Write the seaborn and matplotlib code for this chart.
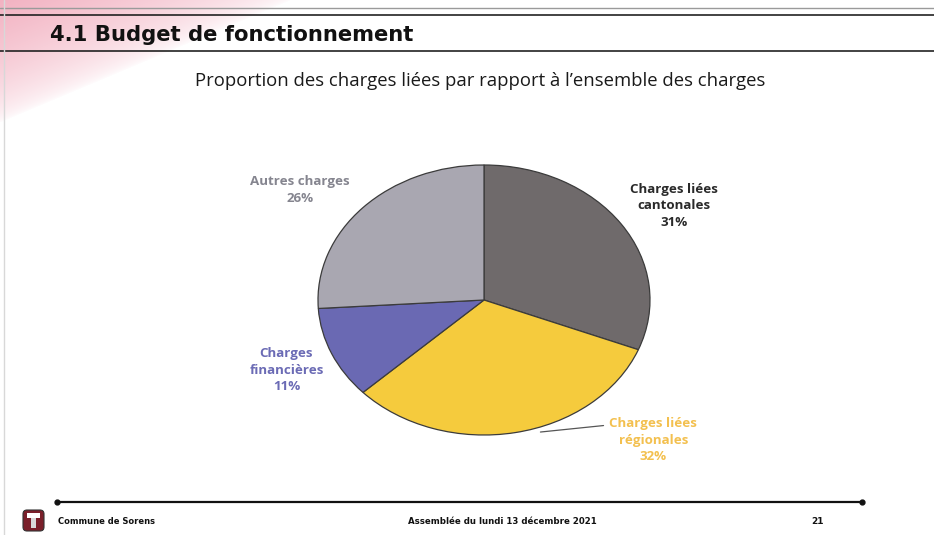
import matplotlib.pyplot as plt
import matplotlib.patches as mpatches
import numpy as np
import seaborn as sns

# --- data -------------------------------------------------------------
categories = ["Charges liées\ncantonales", "Charges liées\nrégionales",
              "Charges\nfinancières", "Autres charges"]
shares = [31, 32, 11, 26]

slide_title = "4.1 Budget de fonctionnement"
chart_title = "Proportion des charges liées par rapport à l\u2019ensemble des charges"
footer_left = "Commune de Sorens"
footer_mid = "Assemblée du lundi 13 décembre 2021"
page_no = "21"

# --- style ------------------------------------------------------------
sns.set_theme(style="white")
plt.rcParams["font.family"] = ["Open Sans", "DejaVu Sans"]

wedge_colors = ["#6f6a6b", "#f5cb3d", "#6a69b3", "#a9a7b1"]
text_colors = ["#2a2a2a", "#f3c04f", "#6b6bb5", "#85858f"]
# label centres in pie data units (ellipse radius = 1)
label_pos = [(1.145, 0.70), (1.02, -1.04), (-1.19, -0.52), (-1.11, 0.815)]

W, H = 934, 535
fig = plt.figure(figsize=(W / 100, H / 100), dpi=100)

# background: pink diagonal fade in the top-left corner + rules
bg = fig.add_axes([0, 0, 1, 1])
bg.set_xlim(0, W)
bg.set_ylim(H, 0)
bg.axis("off")
yy, xx = np.mgrid[0:H, 0:W]
d = xx / 290 + yy / 122
alpha = np.clip(1 - d, 0, 1) ** 0.6 * 0.6
rgba = np.zeros((H, W, 4))
rgba[..., 0] = 0.92
rgba[..., 1] = 0.50
rgba[..., 2] = 0.60
rgba[..., 3] = alpha
bg.imshow(rgba, extent=(0, W, H, 0), zorder=0, aspect="auto")

bg.plot([0, W], [8, 8], color="#9a9a9a", lw=1.0)
bg.plot([0, W], [15, 15], color="#222222", lw=1.2)
bg.plot([0, W], [51, 51], color="#222222", lw=1.2)
bg.plot([4, 4], [0, H], color="#d8d8d8", lw=1.0)

bg.text(50, 35, slide_title, fontsize=15.2, fontweight="heavy",
        family="DejaVu Sans", color="#111111", va="center", ha="left")
bg.text(480, 81, chart_title, fontsize=13.3, color="#1a1a1a",
        va="center", ha="center")

# footer
bg.plot([57, 862], [502, 502], color="#111111", lw=1.6)
bg.plot([57, 862], [502, 502], "o", color="#111111", ms=3.5)
bg.text(58, 521, footer_left, fontsize=6, fontweight="heavy",
        family="DejaVu Sans", va="center", ha="left", color="#111111")
bg.text(502, 521, footer_mid, fontsize=6.2, fontweight="heavy",
        family="DejaVu Sans", va="center", ha="center", color="#111111")
bg.text(818, 521, page_no, fontsize=6.5, fontweight="heavy",
        family="DejaVu Sans", va="center", ha="center", color="#111111")

# small shield logo
shield = mpatches.FancyBboxPatch((23, 510), 21, 21, boxstyle="round,pad=0,rounding_size=4",
                                 fc="#7a1f2a", ec="#333333", lw=0.8)
bg.add_patch(shield)
bg.add_patch(mpatches.Rectangle((27, 513), 13, 5, fc="white", ec="none"))
bg.add_patch(mpatches.Rectangle((31, 518), 5, 10, fc="#d9d9d9", ec="none"))

# --- pie (elliptical, as on the slide) --------------------------------
cx, cy, rx, ry = 484, 300, 166, 135
ax = fig.add_axes([(cx - rx) / W, 1 - (cy + ry) / H, 2 * rx / W, 2 * ry / H])
ax.pie(shares, colors=wedge_colors, startangle=90, counterclock=False,
       wedgeprops=dict(edgecolor="#3b3b3b", linewidth=0.9))
ax.set_aspect("auto")
ax.set_xlim(-1, 1)
ax.set_ylim(-1, 1)
ax.axis("off")

for cat, val, (tx, ty), tc in zip(categories, shares, label_pos, text_colors):
    ax.text(tx, ty, f"{cat}\n{val}%", color=tc, fontsize=9.6,
            fontweight="bold", ha="center", va="center",
            linespacing=1.35, clip_on=False)

# leader line for the regional slice
ax.plot([0.34, 0.72], [-0.978, -0.93], color="#555555", lw=0.9, clip_on=False)

fig.savefig("out.png", dpi=100)
